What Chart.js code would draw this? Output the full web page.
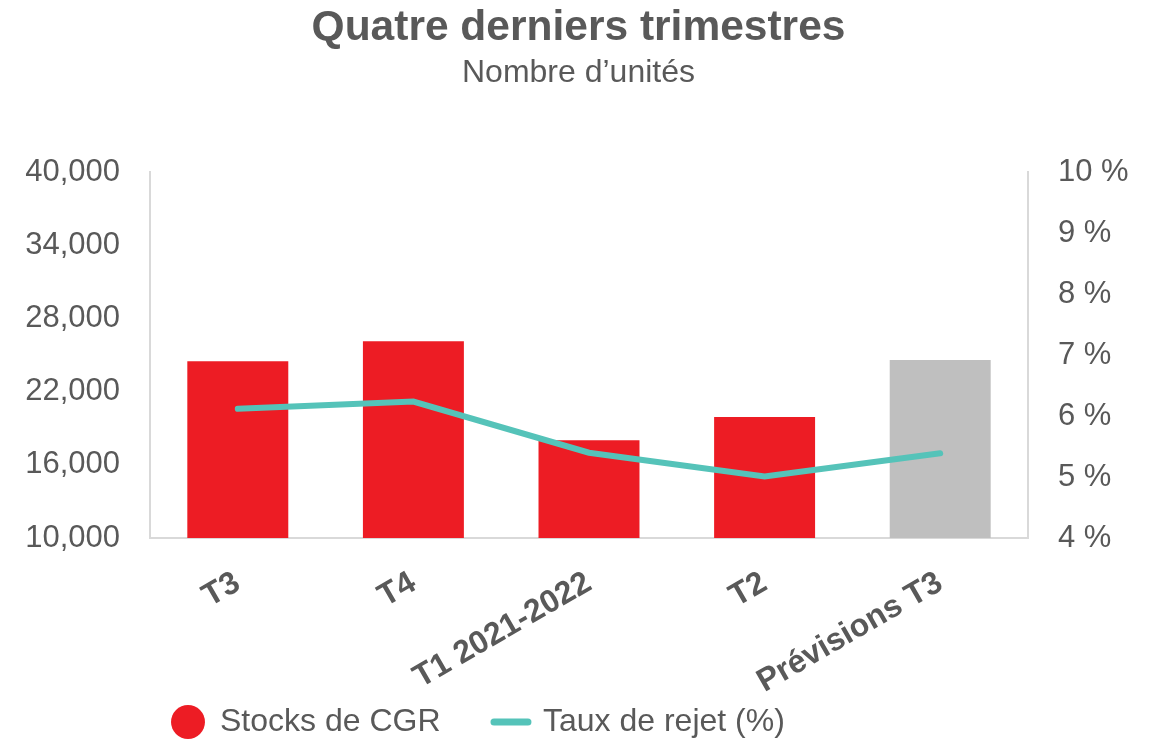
<!DOCTYPE html>
<html>
<head>
<meta charset="utf-8">
<script src="https://cdn.jsdelivr.net/npm/chart.js@4"></script>
<style>
  html, body { margin: 0; padding: 0; background: #fff; }
  #wrap { width: 1157px; height: 739px; }
</style>
</head>
<body>
<div id="wrap"><canvas id="myChart1"></canvas></div>
<script>
let trimestres = ['T3', 'T4', 'T1 2021-2022', 'T2', 'Prévisions T3'];
let stocksCGR = [24500, 26150, 18030, 19920, 24600];
let tauxRejet = [6.12, 6.24, 5.40, 5.01, 5.39];
let ticksGauche = [10000, 16000, 22000, 28000, 34000, 40000];
let ticksDroite = [4, 5, 6, 7, 8, 9, 10];

let rouge = '#ed1c24';
let gris = '#bfbfbf';
let turquoise = '#55c3b9';
let texte = '#595959';
let police = "'Liberation Sans', Arial, sans-serif";

Chart.defaults.font.family = police;
Chart.defaults.color = texte;

// place la légende à gauche comme dans l'original
const decalageLegende = {
    id: 'decalageLegende',
    afterLayout: (chart) => {
        chart.legend.left = 162;
    }
};

let ctx = document.getElementById('myChart1').getContext('2d');
let myChart1 = new Chart(ctx, {
    type: 'bar',
    data: {
        labels: trimestres,
        datasets: [{
            type: 'line',
            label: 'Taux de rejet (%)',
            data: tauxRejet,
            yAxisID: 'y1',
            borderColor: turquoise,
            backgroundColor: turquoise,
            borderWidth: 6,
            borderCapStyle: 'round',
            tension: 0,
            pointRadius: 0,
            order: 0
        }, {
            label: 'Stocks de CGR',
            data: stocksCGR,
            yAxisID: 'y',
            backgroundColor: (c) => c.dataIndex === trimestres.length - 1 ? gris : rouge,
            barPercentage: 0.575,
            categoryPercentage: 1,
            order: 1
        }]
    },
    plugins: [decalageLegende],
    options: {
        responsive: true,
        maintainAspectRatio: false,
        animation: false,
        layout: { padding: { top: 0, bottom: -9, left: 0, right: 0 } },
        plugins: {
            title: {
                display: true,
                text: 'Quatre derniers trimestres',
                color: texte,
                font: { size: 42.5, weight: 'bold' },
                padding: { top: 3, bottom: 0 }
            },
            subtitle: {
                display: true,
                text: 'Nombre d\u2019unités',
                color: texte,
                font: { size: 32 },
                padding: { top: 0, bottom: 80 }
            },
            legend: {
                position: 'bottom',
                align: 'start',
                labels: {
                    usePointStyle: true,
                    boxWidth: 34,
                    boxHeight: 24,
                    padding: 10,
                    color: texte,
                    font: { size: 32 },
                    generateLabels: () => [
                        { text: 'Stocks de CGR\u00a0\u00a0\u00a0\u00a0\u00a0', fillStyle: rouge, strokeStyle: rouge, lineWidth: 0, pointStyle: 'circle', fontColor: texte, datasetIndex: 1 },
                        { text: 'Taux de rejet (%)', fillStyle: turquoise, strokeStyle: turquoise, lineWidth: 7, lineCap: 'round', pointStyle: 'line', fontColor: texte, datasetIndex: 0 }
                    ]
                }
            },
            tooltip: { enabled: false }
        },
        scales: {
            x: {
                grid: { display: false },
                border: { display: true, color: '#d9d9d9', width: 2 },
                ticks: {
                    color: texte,
                    font: { size: 32, weight: 'bold' },
                    maxRotation: 30,
                    minRotation: 30,
                    padding: 18
                },
                afterFit: (s) => { s.height = 158; }
            },
            y: {
                position: 'left',
                min: 10000,
                max: 40000,
                grid: { display: false },
                border: { display: true, color: '#d9d9d9', width: 2 },
                afterBuildTicks: (s) => { s.ticks = ticksGauche.map(v => ({ value: v })); },
                ticks: {
                    color: texte,
                    font: { size: 31 },
                    padding: 22,
                    callback: (v) => v.toLocaleString('en-US')
                },
                afterFit: (s) => { s.width = 150; }
            },
            y1: {
                position: 'right',
                min: 4,
                max: 10,
                grid: { display: false },
                border: { display: true, color: '#d9d9d9', width: 2 },
                afterBuildTicks: (s) => { s.ticks = ticksDroite.map(v => ({ value: v })); },
                ticks: {
                    color: texte,
                    font: { size: 31 },
                    padding: 22,
                    callback: (v) => v + ' %'
                },
                afterFit: (s) => { s.width = 129; }
            }
        }
    }
});
</script>
</body>
</html>
